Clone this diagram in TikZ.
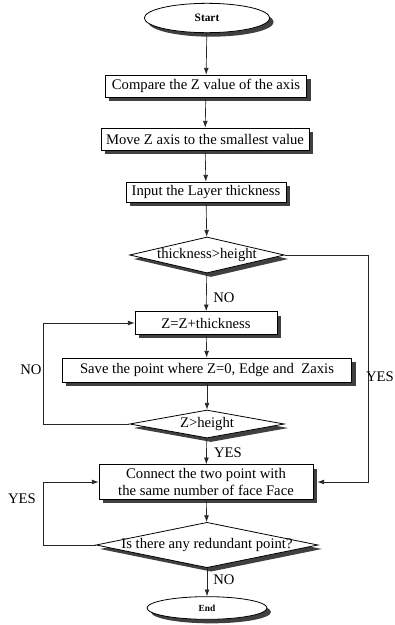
\documentclass[tikz,border=0pt]{standalone}
\usepackage{fontspec}
\setmainfont{Liberation Serif}
\usetikzlibrary{shapes.geometric,arrows.meta,shadows}
\newcommand\dtext[1]{\makebox[0pt]{#1}}
\begin{document}
\begin{tikzpicture}[x=0.75pt,y=-0.75pt,
  font=\fontsize{11}{12.5}\selectfont,
  shad/.style={drop shadow={shadow xshift=3pt,shadow yshift=-3pt,fill=black!75,opacity=1}},
  procbox/.style={draw=black,line width=0.6pt,fill=white,rectangle,inner sep=0pt,align=center,shad},
  term/.style={draw=black,line width=0.6pt,fill=white,ellipse,inner sep=0pt,shad,font=\bfseries\fontsize{8.5}{10}\selectfont},
  decide/.style={draw=black,line width=0.6pt,fill=white,diamond,inner sep=0pt,shad},
  arr/.style={draw=black!85,line width=0.5pt,-{Latex[length=5pt,width=3.6pt]}},
  lab/.style={inner sep=0pt}]
\useasboundingbox (0,0) rectangle (395,625);

\node[term,minimum width=94pt,minimum height=22pt] (start) at (207,18) {Start};
\node[procbox,minimum width=151pt,minimum height=16.5pt] (b1) at (206,86) {Compare the Z value of the axis};
\node[procbox,minimum width=156pt,minimum height=16.5pt] (b2) at (205,139) {Move Z axis to the smallest value};
\node[procbox,minimum width=120pt,minimum height=15pt] (b3) at (206,192) {Input the Layer thickness};
\node[decide,minimum width=116pt,minimum height=27pt] (d1) at (207,255) {\dtext{thickness>height}};
\node[procbox,minimum width=106.5pt,minimum height=17pt] (b4) at (206,323) {Z=Z+thickness};
\node[procbox,minimum width=217pt,minimum height=18pt] (b5) at (207,370) {Save the point where Z=0, Edge and\ \ Zaxis};
\node[decide,minimum width=116pt,minimum height=21pt] (d2) at (207,424) {\dtext{Z>height}};
\node[procbox,minimum width=160.5pt,minimum height=26pt] (b6) at (206,482) {Connect the two point with\\the same number of face Face};
\node[decide,minimum width=166.5pt,minimum height=34pt] (d3) at (207,545) {\dtext{Is there any redundant point?}};
\node[term,minimum width=90pt,minimum height=17pt,font=\bfseries\fontsize{7}{8}\selectfont] (end) at (207,608) {End};

\coordinate (xl) at (43,0);
\coordinate (xr) at (368,0);

\draw[arr] (start) -- (b1);
\draw[arr] (b1) -- (b2);
\draw[arr] (b2) -- (b3);
\draw[arr] (b3) -- (d1);
\draw[arr] (d1) -- (b4);
\draw[arr] (b4) -- (b5);
\draw[arr] (b5) -- (d2);
\draw[arr] (d2) -- (b6);
\draw[arr] (b6) -- (d3);
\draw[arr] (d3) -- (end);

\draw[arr] (d2.west) -- (d2.west -| xl) |- (b4.west);
\draw[arr] (d3.west) -- (d3.west -| xl) |- (b6.west);
\draw[arr] (d1.east) -- (d1.east -| xr) |- ([xshift=3pt]b6.east);

\node[lab] (l1) at (224,298) {NO};
\node[lab] (l2) at (31,370) {NO};
\node[lab,anchor=east] (l3) at (394,377) {YES};
\node[lab] (l4) at (228,453) {YES};
\node[lab] (l5) at (22,499) {YES};
\node[lab] (l6) at (224,580) {NO};
\end{tikzpicture}
\end{document}
